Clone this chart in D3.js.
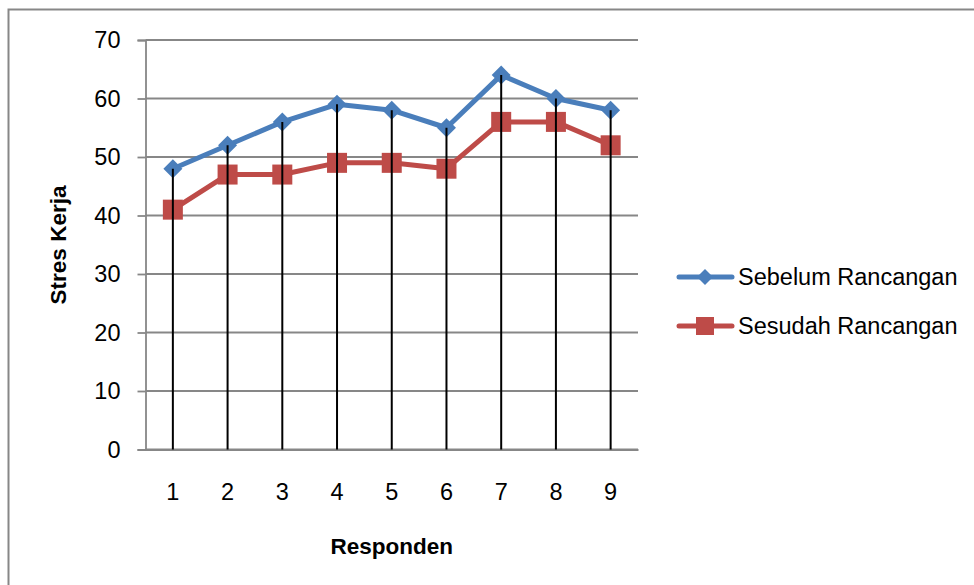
<!DOCTYPE html>
<html><head><meta charset="utf-8">
<script src="https://cdn.jsdelivr.net/npm/d3@7"></script>
<style>body{margin:0;background:#fff}svg{display:block}</style>
</head><body>
<svg id="c" width="974" height="585"></svg>
<script>
const categories = ["1","2","3","4","5","6","7","8","9"];
const sebelum = [48, 52, 56, 59, 58, 55, 64, 60, 58];
const sesudah = [41, 47, 47, 49, 49, 48, 56, 56, 52];
const yTicks = [0, 10, 20, 30, 40, 50, 60, 70];
const seriesNames = ["Sebelum Rancangan", "Sesudah Rancangan"];
const colors = ["#4A7EBB", "#BE4B48"];

const svg = d3.select("#c");
const font = "Liberation Sans, Arial, sans-serif";
const gray = "#878787";

// outer border
svg.append("rect").attr("x", 8.5).attr("y", 9.5).attr("width", 1000).attr("height", 1000)
  .attr("fill", "none").attr("stroke", gray).attr("stroke-width", 2);

const L = 145.5, R = 638, T = 40, B = 449.5;
const x = d3.scaleBand().domain(categories).range([L, R]);
const y = d3.scaleLinear().domain([0, 70]).range([B, T]);
const cx = c => x(c) + x.bandwidth() / 2;

// gridlines
svg.append("g").selectAll("line").data(yTicks).join("line")
  .attr("x1", L).attr("x2", R).attr("y1", d => y(d)).attr("y2", d => y(d))
  .attr("stroke", gray).attr("stroke-width", 1.8);

// y axis
const yAxis = svg.append("g").attr("transform", `translate(${L},0)`)
  .call(d3.axisLeft(y).tickValues(yTicks).tickSize(8).tickPadding(17));
yAxis.select(".domain").attr("stroke", gray).attr("stroke-width", 1.8);
yAxis.selectAll(".tick line").attr("stroke", gray).attr("stroke-width", 1.8);
yAxis.selectAll("text").attr("font-family", font).attr("font-size", 23.5).attr("fill", "#000");

// x axis
const xAxis = svg.append("g").attr("transform", `translate(0,${B})`)
  .call(d3.axisBottom(x).tickSize(0).tickPadding(34));
xAxis.select(".domain").attr("stroke", gray).attr("stroke-width", 1.8);
xAxis.selectAll("text").attr("font-family", font).attr("font-size", 23.5).attr("fill", "#000");

// lines
const series = [sebelum, sesudah];
const line = d3.line().x((d, i) => cx(categories[i])).y(d => y(d));
series.forEach((s, k) => {
  svg.append("path").datum(s).attr("d", line).attr("fill", "none")
    .attr("stroke", colors[k]).attr("stroke-width", 5).attr("stroke-linejoin", "round");
});
// markers
const diamond = 9.5, sq = 20;
svg.append("g").selectAll("path").data(sebelum).join("path")
  .attr("d", (d, i) => { const px = cx(categories[i]), py = y(d);
    return `M${px},${py-diamond}L${px+diamond},${py}L${px},${py+diamond}L${px-diamond},${py}Z`; })
  .attr("fill", colors[0]);
svg.append("g").selectAll("rect").data(sesudah).join("rect")
  .attr("x", (d, i) => cx(categories[i]) - sq / 2).attr("y", d => y(d) - sq / 2)
  .attr("width", sq).attr("height", sq).attr("fill", colors[1]);

// drop lines
svg.append("g").selectAll("line").data(categories).join("line")
  .attr("x1", c => cx(c)).attr("x2", c => cx(c))
  .attr("y1", (c, i) => y(Math.max(sebelum[i], sesudah[i]))).attr("y2", B)
  .attr("stroke", "#000").attr("stroke-width", 2);

// axis titles
svg.append("text").attr("x", (L + R) / 2).attr("y", 554).attr("text-anchor", "middle")
  .attr("font-family", font).attr("font-size", 22.5).attr("font-weight", "bold").text("Responden");
svg.append("text").attr("transform", "translate(66,245) rotate(-90)").attr("text-anchor", "middle")
  .attr("font-family", font).attr("font-size", 22.5).attr("font-weight", "bold").text("Stres Kerja");

// legend
const legY = [277, 326];
seriesNames.forEach((n, k) => {
  const g = svg.append("g");
  g.append("line").attr("x1", 679).attr("x2", 732).attr("y1", legY[k]).attr("y2", legY[k])
    .attr("stroke", colors[k]).attr("stroke-width", 5).attr("stroke-linecap", "round");
  if (k === 0) {
    const px = 705, py = legY[k], dd = 8;
    g.append("path").attr("d", `M${px},${py-dd}L${px+dd},${py}L${px},${py+dd}L${px-dd},${py}Z`).attr("fill", colors[0]);
  } else {
    g.append("rect").attr("x", 705 - 9).attr("y", legY[k] - 9).attr("width", 18).attr("height", 18).attr("fill", colors[1]);
  }
  g.append("text").attr("x", 738).attr("y", legY[k]).attr("dy", "0.35em")
    .attr("font-family", font).attr("font-size", 23.5).text(n);
});
</script>
</body></html>
